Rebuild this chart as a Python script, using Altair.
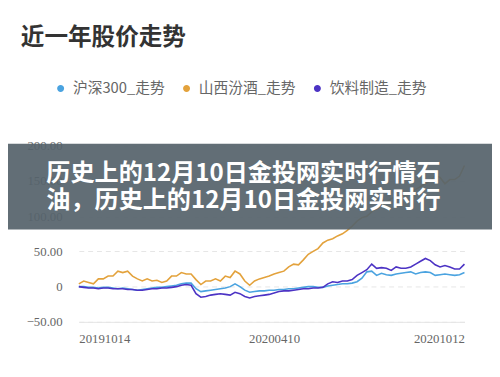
import altair as alt
import pandas as pd

# ---- data ----
series_names = ["沪深300_走势", "山西汾酒_走势", "饮料制造_走势"]
x_labels = ["20191014", "20200410", "20201012"]
x_label_pos = [0, 40, 79]

hs300 = [0, 0, -1, -1, -2, -1, -1, -2, -3, -2,
         -3, -4, -5, -4, -3, -2, -1, -1, 0, 1,
         2, 4, 5, 5, -3, -7, -6, -5, -4, -3,
         -2, 0, 4, 0, -5, -8, -7, -6, -6, -5,
         -5, -4, -4, -3, -3, -2, -1, 0, 0, -1,
         -1, 1, 2, 3, 4, 4, 5, 7, 12, 21,
         22, 16, 19, 17, 16, 18, 19, 20, 21, 18,
         20, 21, 20, 16, 17, 18, 17, 16, 17, 20]

fenjiu = [4, 8, 6, 4, 11, 11, 15, 15, 22, 20,
          22, 15, 11, 8, 11, 8, 9, 6, 8, 15,
          15, 20, 18, 18, 10, 3, 8, 8, 11, 8,
          15, 13, 22, 18, 8, 2, 8, 11, 13, 15,
          18, 20, 22, 28, 32, 31, 38, 46, 50, 54,
          62, 66, 68, 72, 75, 80, 86, 93, 98, 100,
          106, 111, 115, 120, 125, 128, 130, 131, 134, 138,
          142, 146, 150, 158, 155, 146, 152, 152, 157, 172]

yinliao = [0, -1, -2, -2, -3, -2, -2, -3, -3, -3,
           -4, -4, -5, -5, -4, -3, -3, -2, -2, -1,
           0, 2, 3, 2, -10, -15, -14, -12, -11, -10,
           -11, -12, -8, -10, -14, -16, -14, -13, -12, -11,
           -9, -7, -6, -6, -5, -4, -3, -3, -2, -2,
           -1, 4, 7, 6, 8, 8, 10, 16, 20, 24,
           32, 26, 27, 26, 23, 28, 26, 26, 28, 32,
           36, 40, 37, 31, 28, 30, 28, 25, 25, 32]

colors = ["#4aa3e0", "#e3a23c", "#4c33c4"]

title_text = "近一年股价走势"
banner_lines = ["历史上的12月10日金投网实时行情石", "油，历史上的12月10日金投网实时行"]

rows = []
for name, vals in zip(series_names, [hs300, fenjiu, yinliao]):
    for i, v in enumerate(vals):
        rows.append({"idx": i, "value": v, "series": name})
df = pd.DataFrame(rows)

label_map = "{" + ",".join(f"'{p}':'{l}'" for p, l in zip(x_label_pos, x_labels)) + "}"

CJK = "Noto Sans CJK SC"
SERIF = "Liberation Serif"

lines = alt.Chart(df).mark_line(strokeWidth=1.6, clip=False).encode(
    x=alt.X("idx:Q", scale=alt.Scale(domain=[0, 79], nice=False, zero=False),
            axis=alt.Axis(values=x_label_pos, title=None, grid=False, ticks=False,
                          labelFlush=True, labelPadding=11, labelFont=SERIF,
                          labelFontSize=13, labelColor="#666666",
                          domainColor="#e4e4e4", domainWidth=1,
                          labelExpr=f"{label_map}[datum.value]")),
    y=alt.Y("value:Q", scale=alt.Scale(domain=[-50, 200], nice=False),
            axis=alt.Axis(values=[-50, 0, 50, 100, 150, 200], title=None,
                          domain=False, ticks=False, labelPadding=17,
                          labelFont=SERIF, labelFontSize=13, labelColor="#666666",
                          gridColor="#e6e6e6", gridDash=[5, 4],
                          labelExpr="datum.value == 0 ? '0' : format(datum.value, '.2f')")),
    color=alt.Color("series:N",
                    scale=alt.Scale(domain=series_names, range=colors),
                    legend=alt.Legend(title=None, orient="none", direction="horizontal",
                                      legendX=-26, legendY=-66,
                                      symbolType="circle", symbolSize=12,
                                      symbolStrokeWidth=3.6, symbolOffset=0,
                                      labelFont=CJK, labelFontSize=15,
                                      labelColor="#666666", labelOffset=5,
                                      columnPadding=12)),
    order=alt.Order("idx:Q"),
)

title_df = pd.DataFrame({"t": [title_text]})
title = alt.Chart(title_df).mark_text(
    font=CJK, fontSize=24, fontWeight="bold", color="#333333",
    align="left", baseline="middle"
).encode(text="t:N", x=alt.value(-59), y=alt.value(-109))

banner_df = pd.DataFrame({"a": [1]})
banner = alt.Chart(banner_df).mark_rect(color="#56636c", opacity=0.93).encode(
    x=alt.value(-72), x2=alt.value(420), y=alt.value(-2), y2=alt.value(85)
)

b1 = alt.Chart(pd.DataFrame({"t": [banner_lines[0]]})).mark_text(
    font=CJK, fontSize=24.5, fontWeight="bold", color="#ffffff",
    align="left", baseline="middle"
).encode(text="t:N", x=alt.value(-33), y=alt.value(29))

b2 = alt.Chart(pd.DataFrame({"t": [banner_lines[1]]})).mark_text(
    font=CJK, fontSize=24.5, fontWeight="bold", color="#ffffff",
    align="left", baseline="middle"
).encode(text="t:N", x=alt.value(-33), y=alt.value(56))

chart = alt.layer(lines, title, banner, b1, b2).properties(
    width=392, height=179,
    padding={"left": 72, "top": 137, "right": 28, "bottom": 53},
    autosize=alt.AutoSizeParams(type="none"),
    background="#ffffff",
).configure_view(stroke=None)

chart.save("out.html", embed_options={"renderer": "svg", "actions": False})
